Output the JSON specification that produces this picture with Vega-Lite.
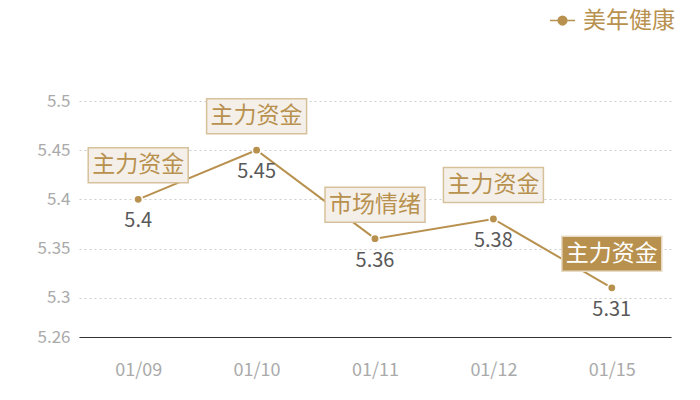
{
  "$schema": "https://vega.github.io/schema/vega-lite/v6.json",
  "width": 592,
  "height": 236,
  "autosize": {"type": "none"},
  "padding": {"left": 79, "top": 101, "right": 29, "bottom": 63},
  "background": "white",
  "config": {
    "view": {"stroke": null},
    "font": "Noto Sans CJK SC"
  },
  "data": {
    "values": [
      {"date": "01/09", "value": 5.40, "note": "主力资金", "series": "美年健康"},
      {"date": "01/10", "value": 5.45, "note": "主力资金", "series": "美年健康"},
      {"date": "01/11", "value": 5.36, "note": "市场情绪", "series": "美年健康"},
      {"date": "01/12", "value": 5.38, "note": "主力资金", "series": "美年健康"},
      {"date": "01/15", "value": 5.31, "note": "主力资金", "series": "美年健康"}
    ]
  },
  "encoding": {
    "x": {
      "field": "date",
      "type": "ordinal",
      "scale": {"type": "point", "padding": 0.5},
      "axis": {
        "title": null,
        "labelAngle": 0,
        "labelColor": "#aaaaaa",
        "labelFontSize": 18,
        "labelPadding": 24,
        "ticks": false,
        "domainColor": "#333333",
        "domainWidth": 1,
        "grid": false
      }
    },
    "y": {
      "field": "value",
      "type": "quantitative",
      "scale": {"domain": [5.26, 5.5], "zero": false, "nice": false},
      "axis": {
        "title": null,
        "values": [5.26, 5.3, 5.35, 5.4, 5.45, 5.5],
        "format": "~g",
        "labelColor": "#aaaaaa",
        "labelFontSize": 17,
        "labelPadding": 9,
        "ticks": false,
        "domain": false,
        "gridColor": "#cccccc",
        "gridDash": [2, 3],
        "gridWidth": 1
      }
    }
  },
  "layer": [
    {
      "mark": {"type": "line", "strokeWidth": 2},
      "encoding": {
        "color": {
          "field": "series",
          "type": "nominal",
          "scale": {"range": ["#b8914f"]},
          "legend": {
            "title": null,
            "orient": "none",
            "legendX": 470,
            "legendY": -94,
            "labelFontSize": 23,
            "labelColor": "#b8914f",
            "symbolType": "M-1,0L1,0M-0.35,0A0.35,0.35,0,1,1,0.35,0A0.35,0.35,0,1,1,-0.35,0Z",
            "symbolSize": 625,
            "symbolFillColor": "#b8914f",
            "symbolStrokeWidth": 1.5,
            "labelOffset": 7
          }
        }
      }
    },
    {
      "mark": {"type": "point", "filled": true, "size": 70, "color": "#b8914f", "stroke": "white", "strokeWidth": 1.5, "opacity": 1}
    },
    {
      "mark": {"type": "text", "dy": 22, "fontSize": 20, "color": "#595959"},
      "encoding": {"text": {"field": "value", "type": "quantitative", "format": "~g"}}
    },
    {
      "mark": {
        "type": "point",
        "shape": "M-50,-17.5L50,-17.5L50,17.5L-50,17.5Z",
        "size": 4,
        "filled": true,
        "yOffset": -34,
        "strokeWidth": 1.5,
        "opacity": 1
      },
      "encoding": {
        "fill": {
          "condition": {"test": "datum.date === '01/15'", "value": "#b8914f"},
          "value": "#f4f0e9"
        },
        "stroke": {
          "condition": {"test": "datum.date === '01/15'", "value": "#e9dcc6"},
          "value": "#d7c19b"
        }
      }
    },
    {
      "mark": {"type": "text", "dy": -34, "fontSize": 23},
      "encoding": {
        "text": {"field": "note"},
        "color": {
          "condition": {"test": "datum.date === '01/15'", "value": "#ffffff"},
          "value": "#b8914f"
        }
      }
    }
  ]
}
